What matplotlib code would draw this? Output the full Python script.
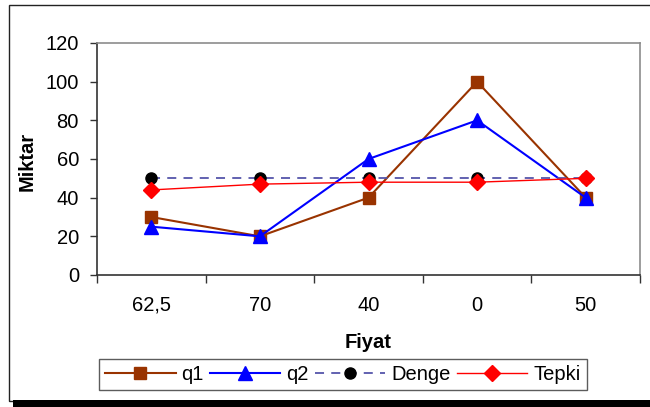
import numpy as np
import matplotlib
matplotlib.use('Agg')
import matplotlib.pyplot as plt
from matplotlib.patches import Rectangle
from matplotlib.ticker import FixedLocator, NullFormatter

matplotlib.rc('font', family='Liberation Sans', size=14.5)

fiyat = ['62,5', '70', '40', '0', '50']
q1 = [30, 20, 40, 100, 40]
q2 = [25, 20, 60, 80, 40]
denge = [50, 50, 50, 50, 50]
tepki = [44, 47, 48, 48, 50]

W, H = 650, 407
fig = plt.figure(figsize=(W / 100, H / 100), dpi=100)
fig.patch.set_facecolor('white')

ax = fig.add_axes([97 / W, 1 - 275 / H, 543 / W, 232 / H])
x = np.arange(len(fiyat))

ax.plot(x, q1, color='#993300', lw=1.5, marker='s', ms=9, label='q1', zorder=3)
ax.plot(x, q2, color='#0000ff', lw=1.5, marker='^', ms=10, label='q2', zorder=4)
ax.plot(x, denge, color='#5555aa', lw=1.3, ls=(0, (5, 4)), marker='o', ms=8,
        mfc='black', mec='black', label='Denge', zorder=5)
ax.plot(x, tepki, color='#ff0000', lw=1.0, marker='D', ms=8, label='Tepki', zorder=6)

ax.set_xlim(-0.5, len(fiyat) - 0.5)
ax.set_ylim(0, 120)
ax.set_yticks(np.arange(0, 121, 20))

# category ticks sit between the categories, labels in the middle
ax.xaxis.set_major_locator(FixedLocator(np.arange(-0.5, len(fiyat), 1.0)))
ax.xaxis.set_major_formatter(NullFormatter())
ax.xaxis.set_minor_locator(FixedLocator(x))
ax.set_xticklabels(fiyat, minor=True)
ax.tick_params(axis='x', which='major', direction='out', length=6, width=1, color='#333333')
ax.tick_params(axis='x', which='minor', length=0, pad=15)
ax.tick_params(axis='y', direction='out', length=5, width=1, color='#333333', pad=8)

for s in ['left', 'bottom']:
    ax.spines[s].set_color('#333333')
    ax.spines[s].set_linewidth(1.2)
for s in ['top', 'right']:
    ax.spines[s].set_color('#8c8c8c')
    ax.spines[s].set_linewidth(1.2)

fig.text(27 / W, 1 - 161 / H, 'Miktar', rotation=90, fontweight='bold',
         ha='center', va='center')
fig.text(368 / W, 1 - 343 / H, 'Fiyat', fontweight='bold', ha='center', va='center')

leg = fig.legend(loc='upper left', bbox_to_anchor=(99 / W, 1 - 359 / H), ncol=4,
                 frameon=True, fancybox=False, handlelength=3.5, handletextpad=0.3,
                 columnspacing=0.3, borderpad=0.3, borderaxespad=0)
leg.get_frame().set_edgecolor('#333333')
leg.get_frame().set_linewidth(1.0)

# outer chart frame and its shadow
fig.patches.append(Rectangle((9 / W, 1 - 401 / H), 1.0, 396 / H, transform=fig.transFigure,
                             fill=False, edgecolor='#222222', lw=1.0, zorder=1))
fig.patches.append(Rectangle((13 / W, 0), 1.0, 7 / H, transform=fig.transFigure,
                             facecolor='black', edgecolor='none', zorder=10))

fig.savefig('out.png', dpi=100)
